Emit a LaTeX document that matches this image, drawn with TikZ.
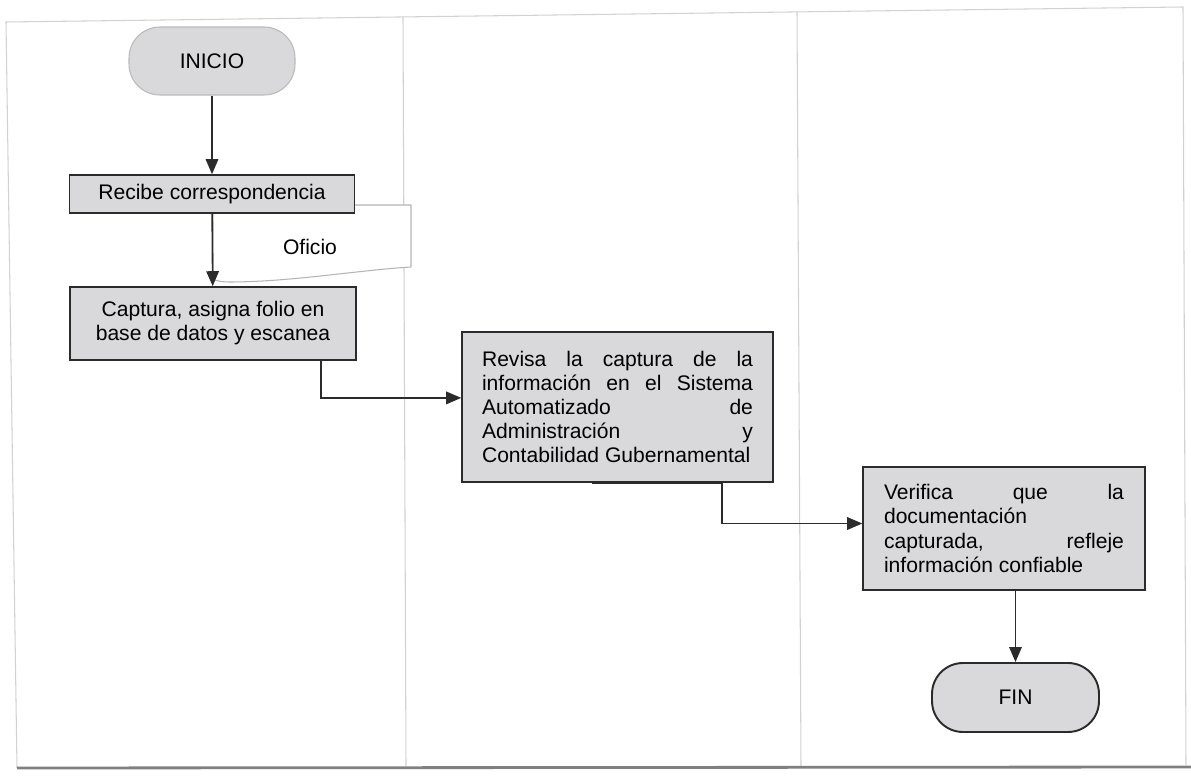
\documentclass[tikz,border=0pt]{standalone}
\usepackage{fontspec}
\setmainfont{Liberation Sans}
\usetikzlibrary{arrows.meta,calc}
\definecolor{boxfill}{HTML}{D9D9DB}
\definecolor{lineclr}{HTML}{2B2B2B}
\definecolor{framegray}{HTML}{D2D2D2}
\definecolor{docgray}{HTML}{B4B4B4}
\newcommand{\jl}[2]{\makebox[#1][s]{#2}}
\begin{document}
\begin{tikzpicture}[x=0.02cm,y=-0.02cm,
  font=\fontsize{12}{13.7}\selectfont,
  proc/.style={draw=lineclr, line width=0.9pt, fill=boxfill, inner sep=0pt, align=center},
  term/.style={draw=lineclr, line width=1.1pt, fill=boxfill, rounded corners=0.62cm, inner sep=0pt},
  arr/.style={draw=lineclr, line width=0.9pt, -{Triangle[length=0.3cm,width=0.25cm]}},
  lane/.style={draw=framegray, line width=0.6pt}]
\useasboundingbox (0,0) rectangle (1191,780);
\fill[white] (0,0) rectangle (1191,780);
% frame and lanes
\draw[lane] (17,768) -- (6,22) -- (1183,7) -- (1186,765);
\draw[lane] (403,17) -- (406,766);
\draw[lane] (797,12) -- (801,766);
\draw[draw=gray, line width=1.6pt] (17,768) -- (1191,767);
% document shape
\draw[docgray, fill=white, line width=0.6pt] (213,205) -- (411,205) -- (411,267)
  .. controls (360,270) and (290,282) .. (230,282)
  .. controls (222,282) and (216,281) .. (213,279) -- cycle;
\node (oficio) at (310,247) {Oficio};
% nodes
\node[term, draw=gray!55, line width=0.6pt, minimum width=3.32cm, minimum height=1.36cm] (inicio) at (212,61) {INICIO};
\node[proc, minimum width=5.7cm, minimum height=0.76cm] (recibe) at (212,194) {Recibe correspondencia};
\node[proc, minimum width=5.72cm, minimum height=1.46cm] (captura) at (213,323.5) {Captura, asigna folio en\\base de datos y escanea};
\node[proc, minimum width=6.22cm, minimum height=3.0cm, align=left] (revisa) at (617.5,407)
  {\jl{5.42cm}{Revisa la captura de la}\\\jl{5.42cm}{información en el Sistema}\\\jl{5.42cm}{Automatizado de}\\\jl{5.42cm}{Administración y}\\Contabilidad Gubernamental};
\node[proc, minimum width=5.64cm, minimum height=2.46cm, align=left] (verifica) at (1004,528.5)
  {\jl{4.8cm}{Verifica que la}\\documentación\\\jl{4.8cm}{capturada, refleje}\\información confiable};
\node[term, minimum width=3.34cm, minimum height=1.38cm] (fin) at (1015.5,697.5) {FIN};
% connectors
\draw[arr] (inicio) -- (recibe);
\draw[arr] (recibe) -- (captura);
\coordinate (c1) at ($(captura.south west)+(252,0)$);
\draw[arr] (c1) |- ($(revisa.north west)!0.44!(revisa.south west)$);
\coordinate (c2) at ($(revisa.south west)+(261,0)$);
\draw[line width=1.6pt, lineclr] ($(revisa.south west)+(131,0)$) -- (c2);
\draw[arr] (c2) |- ($(verifica.north west)!0.46!(verifica.south west)$);
\draw[arr] (verifica.south -| fin.north) -- (fin.north);
\end{tikzpicture}
\end{document}
